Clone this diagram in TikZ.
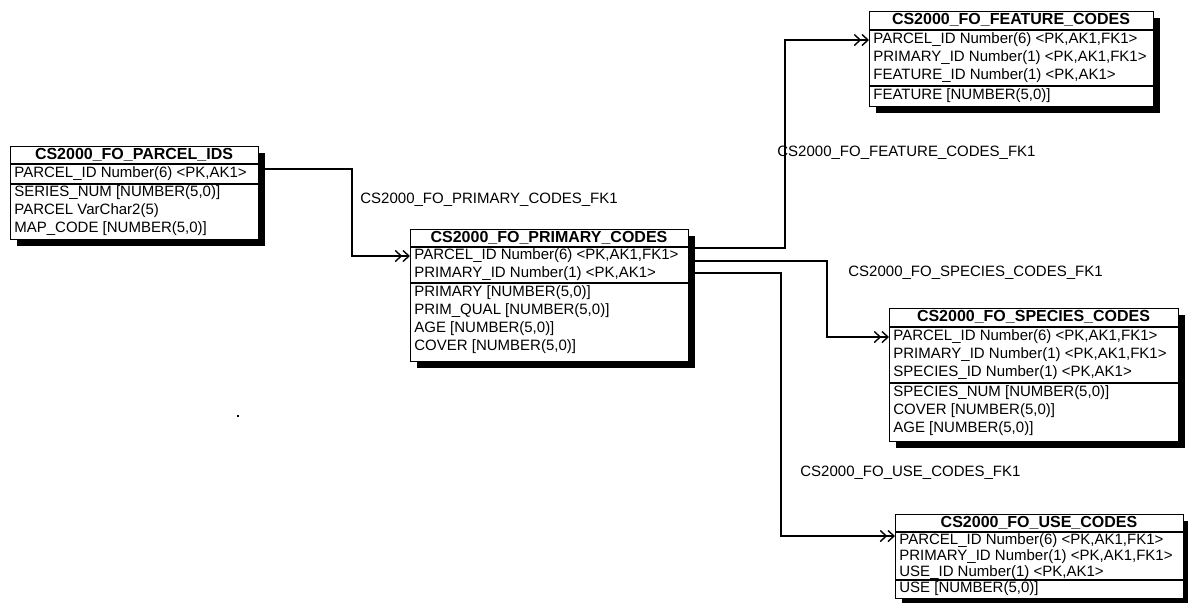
\documentclass[tikz,border=0pt]{standalone}
\usepackage{fontspec}
\setmainfont{Liberation Sans}
\usetikzlibrary{arrows.meta,shadows}
\begin{document}
\begin{tikzpicture}[x=0.5pt,y=-0.5pt,
  tbox/.style={draw, line width=0.6pt, fill=white, anchor=north west, inner sep=0pt,
    drop shadow={shadow xshift=3pt,shadow yshift=-3pt,fill=black,opacity=1}},
  ttl/.style={font=\fontsize{8}{9}\selectfont\bfseries, inner sep=0pt, anchor=center},
  row/.style={font=\fontsize{7.5}{9}\selectfont, inner sep=0pt, anchor=west},
  lbl/.style={font=\fontsize{7.5}{9}\selectfont, inner sep=0pt, anchor=west},
  sep/.style={line width=0.6pt},
  conn/.style={line width=0.7pt},
  fk/.style={conn, -{Straight Barb[length=3pt,width=5.5pt] Straight Barb[length=3pt,width=5.5pt]}}
]
\useasboundingbox[fill=white] (0,0) rectangle (1188,602);

% ---------- connectors ----------
\coordinate (c1) at (352,169);
\coordinate (c2) at (785,248);
\coordinate (c3) at (827,261);
\coordinate (c4) at (781,273);

% ---------- tables ----------
% PARCEL_IDS
\node[tbox, minimum width=124pt, minimum height=46.5pt] (parcel) at (10,146) {};
\node[ttl] (pt) at (134,155) {CS2000\_FO\_PARCEL\_IDS};
\draw[sep] (parcel.west |- 0,164) -- (parcel.east |- 0,164);
\draw[sep] (parcel.west |- 0,184) -- (parcel.east |- 0,184);
\node[row] (pa1) at (14,174) {PARCEL\_ID Number(6) <PK,AK1>};
\node[row] (pa2) at (14,193) {SERIES\_NUM [NUMBER(5,0)]};
\node[row] (pa3) at (14,211) {PARCEL VarChar2(5)};
\node[row] (pa4) at (14,229) {MAP\_CODE [NUMBER(5,0)]};

% PRIMARY_CODES
\node[tbox, minimum width=139pt, minimum height=66pt] (primary) at (410,229) {};
\node[ttl] (prt) at (549,238) {CS2000\_FO\_PRIMARY\_CODES};
\draw[sep] (primary.west |- 0,247) -- (primary.east |- 0,247);
\draw[sep] (primary.west |- 0,283) -- (primary.east |- 0,283);
\node[row] (pr1) at (414,256) {PARCEL\_ID Number(6) <PK,AK1,FK1>};
\node[row] (pr2) at (414,274) {PRIMARY\_ID Number(1) <PK,AK1>};
\node[row] (pr3) at (414,293) {PRIMARY [NUMBER(5,0)]};
\node[row] (pr4) at (414,311) {PRIM\_QUAL [NUMBER(5,0)]};
\node[row] (pr5) at (414,329) {AGE [NUMBER(5,0)]};
\node[row] (pr6) at (414,347) {COVER [NUMBER(5,0)]};

% FEATURE_CODES
\node[tbox, minimum width=142pt, minimum height=47.5pt] (feature) at (869,11) {};
\node[ttl] (ft) at (1011,20) {CS2000\_FO\_FEATURE\_CODES};
\draw[sep] (feature.west |- 0,30) -- (feature.east |- 0,30);
\draw[sep] (feature.west |- 0,86) -- (feature.east |- 0,86);
\node[row] (fe1) at (873,40) {PARCEL\_ID Number(6) <PK,AK1,FK1>};
\node[row] (fe2) at (873,58) {PRIMARY\_ID Number(1) <PK,AK1,FK1>};
\node[row] (fe3) at (873,76) {FEATURE\_ID Number(1) <PK,AK1>};
\node[row] (fe4) at (873,96) {FEATURE [NUMBER(5,0)]};

% SPECIES_CODES
\node[tbox, minimum width=144.5pt, minimum height=66.5pt] (species) at (889,308) {};
\node[ttl] (st) at (1033.5,317) {CS2000\_FO\_SPECIES\_CODES};
\draw[sep] (species.west |- 0,327) -- (species.east |- 0,327);
\draw[sep] (species.west |- 0,383) -- (species.east |- 0,383);
\node[row] (sp1) at (893,337) {PARCEL\_ID Number(6) <PK,AK1,FK1>};
\node[row] (sp2) at (893,355) {PRIMARY\_ID Number(1) <PK,AK1,FK1>};
\node[row] (sp3) at (893,373) {SPECIES\_ID Number(1) <PK,AK1>};
\node[row] (sp4) at (893,393) {SPECIES\_NUM [NUMBER(5,0)]};
\node[row] (sp5) at (893,411) {COVER [NUMBER(5,0)]};
\node[row] (sp6) at (893,429) {AGE [NUMBER(5,0)]};

% USE_CODES
\node[tbox, minimum width=144pt, minimum height=42pt] (use) at (895,514) {};
\node[ttl] (ut) at (1039,523) {CS2000\_FO\_USE\_CODES};
\draw[sep] (use.west |- 0,532) -- (use.east |- 0,532);
\draw[sep] (use.west |- 0,580) -- (use.east |- 0,580);
\node[row] (us1) at (899,541) {PARCEL\_ID Number(6) <PK,AK1,FK1>};
\node[row] (us2) at (899,557) {PRIMARY\_ID Number(1) <PK,AK1,FK1>};
\node[row] (us3) at (899,573) {USE\_ID Number(1) <PK,AK1>};
\node[row] (us4) at (899,589) {USE [NUMBER(5,0)]};

% ---------- relationship lines ----------
\draw[fk] (parcel.east |- c1) -- (c1) |- (primary.west |- pr1);
\draw[fk] (primary.east |- c2) -- (c2) |- (feature.west |- fe1);
\draw[fk] (primary.east |- c3) -- (c3) |- (species.west |- sp1);
\draw[fk] (primary.east |- c4) -- (c4) |- (use.west |- 0,536);

% ---------- labels ----------
\node[lbl] (l1) at (360,200) {CS2000\_FO\_PRIMARY\_CODES\_FK1};
\node[lbl] (l2) at (777,153) {CS2000\_FO\_FEATURE\_CODES\_FK1};
\node[lbl] (l3) at (848,273) {CS2000\_FO\_SPECIES\_CODES\_FK1};
\node[lbl] (l4) at (800,473) {CS2000\_FO\_USE\_CODES\_FK1};

% stray speck
\fill (237,415) rectangle (239,417);
\end{tikzpicture}
\end{document}
